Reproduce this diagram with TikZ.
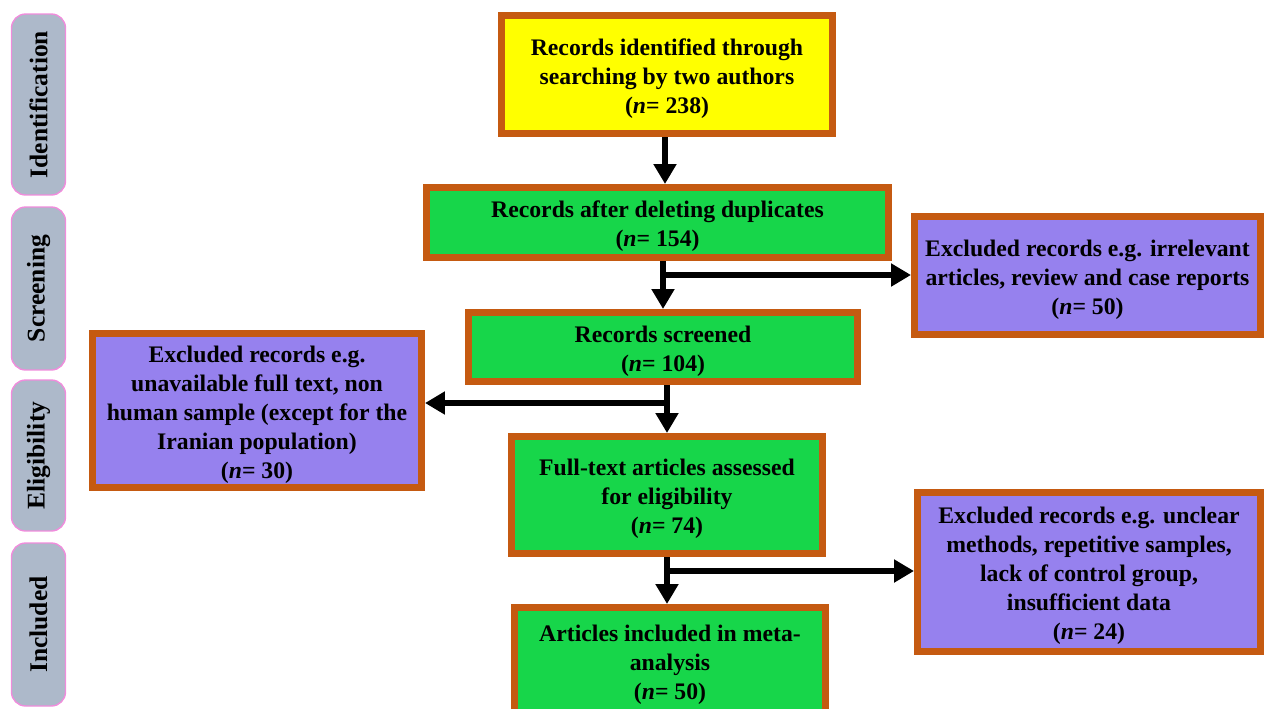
\documentclass[tikz,border=0pt]{standalone}
\usepackage{fontspec}
\setmainfont{Liberation Serif}
\usetikzlibrary{arrows.meta,calc}
\definecolor{bord}{HTML}{C55A11}
\definecolor{boxyellow}{HTML}{FFFF00}
\definecolor{boxgreen}{HTML}{17D64A}
\definecolor{boxpurple}{HTML}{9681EE}
\definecolor{phasefill}{HTML}{ADB9CA}
\definecolor{phaseborder}{HTML}{F08CDC}
\newcommand{\topst}{\rule{0pt}{14pt}}
\begin{document}
\begin{tikzpicture}[x=0.02cm,y=-0.02cm,
  box/.style={draw=bord,line width=4pt,align=center,font=\fontsize{13.5}{16.5}\selectfont\bfseries,inner sep=0pt},
  ybox/.style={box,fill=boxyellow},
  gbox/.style={box,fill=boxgreen},
  pbox/.style={box,fill=boxpurple},
  phase/.style={draw=phaseborder,fill=phasefill,line width=0.8pt,rounded corners=8pt,rotate=90,font=\fontsize{14.5}{17}\selectfont\bfseries,inner sep=0pt,minimum height=1.08cm},
  arr/.style={line width=3.9pt,-{Triangle[length=0.4cm,width=0.44cm]}}]
\useasboundingbox (0,0) rectangle (1264,708);
\clip (0,0) rectangle (1264,708);
% phase labels
\node[phase,minimum width=3.62cm] (ph1) at (38.5,104.5) {Identification};
\node[phase,minimum width=3.26cm] (ph2) at (38.5,288.5) {Screening};
\node[phase,minimum width=3.02cm] (ph3) at (38.5,455.5) {Eligibility};
\node[phase,minimum width=3.26cm] (ph4) at (38.5,624.5) {Included};
% boxes
\node[ybox,minimum width=6.62cm,minimum height=2.36cm] (Y) at (667,74.5) {\topst Records identified through\\searching by two authors\\(\textit{n}= 238)};
\node[gbox,minimum width=9.24cm,minimum height=1.40cm] (G1) at (657.5,222.5) {\topst Records after deleting duplicates\\(\textit{n}= 154)};
\node[pbox,minimum width=6.92cm,minimum height=2.36cm] (P1) at (1087.5,275.5) {\topst Excluded records e.g. irrelevant\\articles, review and case reports\\(\textit{n}= 50)};
\node[gbox,minimum width=7.78cm,minimum height=1.38cm] (G2) at (663,347) {\topst Records screened\\(\textit{n}= 104)};
\node[pbox,minimum width=6.58cm,minimum height=3.08cm] (PL) at (257,410.5) {\topst Excluded records e.g.\\unavailable full text, non\\human sample (except for the\\Iranian population)\\(\textit{n}= 30)};
\node[gbox,minimum width=6.22cm,minimum height=2.34cm] (G3) at (667,495) {\topst Full-text articles assessed\\for eligibility\\(\textit{n}= 74)};
\node[pbox,minimum width=6.86cm,minimum height=3.18cm] (P2) at (1089,572) {\topst Excluded records e.g. unclear\\methods, repetitive samples,\\lack of control group,\\insufficient data\\(\textit{n}= 24)};
\node[gbox,minimum width=6.22cm,minimum height=2.14cm] (G4) at (670,661) {\topst Articles included in meta-\\analysis\\(\textit{n}= 50)};
% connectors
\coordinate (c0) at (665,0);
\coordinate (b1) at (663,275);
\coordinate (b2) at (667,403);
\coordinate (b3) at (667,571);
\draw[arr] (Y.south -| c0) -- (G1.north -| c0);
\draw[arr] (G1.south -| b1) -- (G2.north -| b1);
\draw[arr] (b1) -- (b1 -| P1.west);
\draw[arr] (G2.south -| b2) -- (G3.north -| b2);
\draw[arr] (b2) -- (b2 -| PL.east);
\draw[arr] (G3.south -| b3) -- (G4.north -| b3);
\draw[arr] (b3) -- (b3 -| P2.west);
\end{tikzpicture}
\end{document}
